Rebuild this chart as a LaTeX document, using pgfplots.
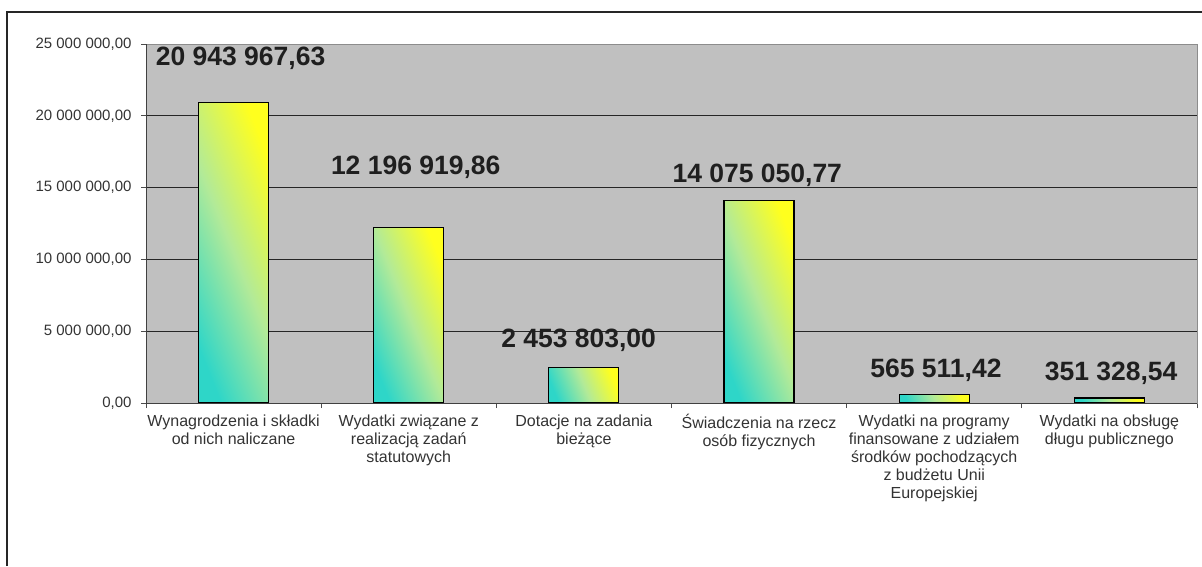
\documentclass[border=0pt]{standalone}
\usepackage{pgfplots}
\pgfplotsset{compat=1.18}
\usepackage{fontspec}
\setmainfont{Liberation Sans}
\definecolor{plotbg}{HTML}{C0C0C0}
\definecolor{barlow}{HTML}{2ED6C8}
\definecolor{barmid}{HTML}{B2EA98}
\definecolor{barhigh}{HTML}{FFFF1E}
\definecolor{txt}{HTML}{333333}
\begin{document}
\begin{tikzpicture}[x=1pt,y=1pt]
\useasboundingbox (0,0) rectangle (1202,-566);
\draw[line width=1.6pt, black!85] (7,-566) -- (7,-12) -- (1202,-12);
\begin{axis}[
  at={(146pt,-403pt)}, anchor=south west,
  scale only axis, width=1051pt, height=359pt,
  xmin=-0.5, xmax=5.5, ymin=0, ymax=25000000,
  axis background/.style={fill=plotbg},
  axis line style={draw=black!45, line width=0.8pt},
  clip=false,
  tick pos=left, tick align=outside,
  major tick length=5pt,
  tick style={draw=black!70, line width=0.8pt},
  xtick={-0.5,0.5,...,5.5}, xticklabels={},
  ytick={0,5000000,10000000,15000000,20000000,25000000},
  scaled y ticks=false,
  yticklabels={{0,00},{5 000 000,00},{10 000 000,00},{15 000 000,00},{20 000 000,00},{25 000 000,00}},
  yticklabel style={font=\fontsize{15}{17}\selectfont, text=txt, xshift=-6pt},
  ymajorgrids, grid style={draw=black!85, line width=0.9pt},
  extra x ticks={0,1,2,3,4,5},
  extra x tick labels={
    {Wynagrodzenia i składki\\od nich naliczane},
    {Wydatki związane z\\realizacją zadań\\statutowych},
    {Dotacje na zadania\\bieżące},
    {Świadczenia na rzecz\\osób fizycznych},
    {Wydatki na programy\\finansowane z udziałem\\środków pochodzących\\z budżetu Unii\\Europejskiej},
    {Wydatki na obsługę\\długu publicznego}},
  extra x tick style={major tick length=0pt, grid=none,
    tick label style={align=center, font=\fontsize{16}{18}\selectfont, text=txt, yshift=-8pt}},
  bargrad/.style={ybar, bar width=70pt, bar shift=0pt, draw=black, line width=1.2pt,
    top color=barhigh, bottom color=barlow, middle color=barmid, shading angle=-68},
]
\addplot[bargrad] coordinates {(0,20943967.63)};
\addplot[bargrad] coordinates {(1,12196919.86)};
\addplot[bargrad] coordinates {(2,2453803.00)};
\addplot[bargrad] coordinates {(3,14075050.77)};
\addplot[bargrad] coordinates {(4,565511.42)};
\addplot[bargrad] coordinates {(5,351328.54)};
\draw[black!75, line width=1pt] (rel axis cs:0,1) -- (rel axis cs:0,0) -- (rel axis cs:1,0);
\begin{scope}[every node/.style={font=\bfseries\fontsize{26.5}{27}\selectfont, text=black!88}]
\node at (axis cs:0.04,24000000) {20 943 967,63};
\node at (axis cs:1.04,16430000) {12 196 919,86};
\node at (axis cs:1.97,4390000) {2 453 803,00};
\node at (axis cs:2.99,15880000) {14 075 050,77};
\node at (axis cs:4.01,2300000) {565 511,42};
\node at (axis cs:5.01,2090000) {351 328,54};
\end{scope}
\end{axis}
\end{tikzpicture}
\end{document}
